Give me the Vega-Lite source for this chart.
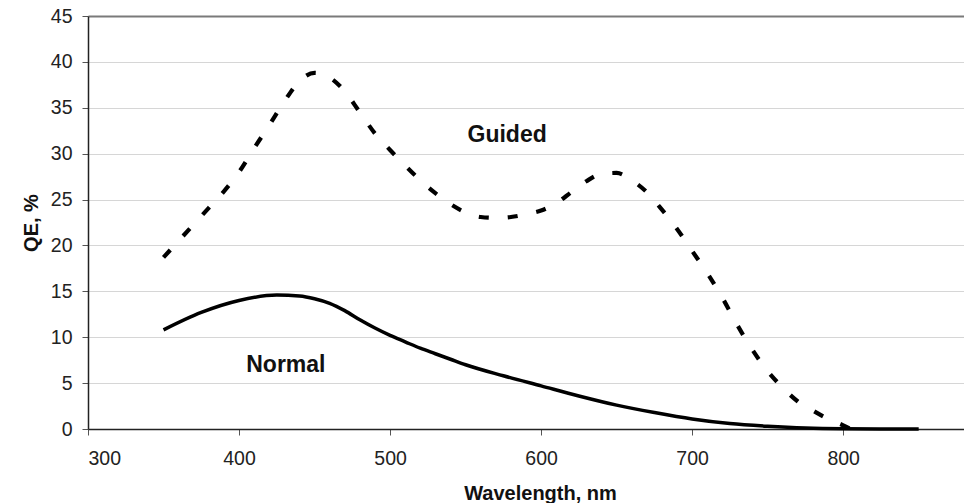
{
  "$schema": "https://vega.github.io/schema/vega-lite/v6.json",
  "width": 876,
  "height": 413,
  "autosize": {"type": "none"},
  "padding": {"left": 88, "top": 16, "right": 0, "bottom": 74},
  "background": "white",
  "config": {
    "font": "Liberation Sans",
    "view": {"stroke": null}
  },
  "datasets": {
    "normal": [
      {"wl": 350, "qe": 10.8}, {"wl": 375, "qe": 12.7}, {"wl": 400, "qe": 14.0}, {"wl": 425, "qe": 14.6},
      {"wl": 440, "qe": 14.5}, {"wl": 450, "qe": 14.2}, {"wl": 460, "qe": 13.7}, {"wl": 470, "qe": 12.9},
      {"wl": 480, "qe": 11.9}, {"wl": 490, "qe": 11.0}, {"wl": 500, "qe": 10.2}, {"wl": 510, "qe": 9.5},
      {"wl": 520, "qe": 8.8}, {"wl": 530, "qe": 8.2}, {"wl": 540, "qe": 7.6}, {"wl": 550, "qe": 7.0},
      {"wl": 575, "qe": 5.8}, {"wl": 600, "qe": 4.7}, {"wl": 625, "qe": 3.6},
      {"wl": 650, "qe": 2.6}, {"wl": 675, "qe": 1.8}, {"wl": 700, "qe": 1.1}, {"wl": 725, "qe": 0.6},
      {"wl": 750, "qe": 0.3}, {"wl": 775, "qe": 0.1}, {"wl": 800, "qe": 0.02}, {"wl": 825, "qe": 0}, {"wl": 850, "qe": 0}
    ],
    "guided": [
      {"wl": 350, "qe": 18.7}, {"wl": 360, "qe": 20.5}, {"wl": 370, "qe": 22.3}, {"wl": 380, "qe": 24.1},
      {"wl": 390, "qe": 25.9}, {"wl": 400, "qe": 28.0}, {"wl": 410, "qe": 30.6}, {"wl": 420, "qe": 33.1},
      {"wl": 430, "qe": 35.7}, {"wl": 440, "qe": 37.9}, {"wl": 450, "qe": 38.8}, {"wl": 460, "qe": 38.3},
      {"wl": 470, "qe": 36.8}, {"wl": 480, "qe": 34.5}, {"wl": 490, "qe": 32.2}, {"wl": 500, "qe": 30.4},
      {"wl": 510, "qe": 28.7}, {"wl": 520, "qe": 27.1}, {"wl": 530, "qe": 25.7}, {"wl": 540, "qe": 24.5},
      {"wl": 550, "qe": 23.6}, {"wl": 560, "qe": 23.1}, {"wl": 570, "qe": 23.0}, {"wl": 580, "qe": 23.1},
      {"wl": 590, "qe": 23.4}, {"wl": 600, "qe": 23.8}, {"wl": 610, "qe": 24.6}, {"wl": 620, "qe": 25.8},
      {"wl": 630, "qe": 27.0}, {"wl": 640, "qe": 27.8}, {"wl": 650, "qe": 27.9}, {"wl": 660, "qe": 27.1},
      {"wl": 670, "qe": 25.8}, {"wl": 680, "qe": 23.9}, {"wl": 690, "qe": 21.8}, {"wl": 700, "qe": 19.4},
      {"wl": 710, "qe": 17.0}, {"wl": 720, "qe": 14.3}, {"wl": 730, "qe": 11.3}, {"wl": 740, "qe": 8.6},
      {"wl": 750, "qe": 6.3}, {"wl": 760, "qe": 4.5}, {"wl": 770, "qe": 3.0}, {"wl": 780, "qe": 2.0},
      {"wl": 790, "qe": 1.1}, {"wl": 800, "qe": 0.4}, {"wl": 805, "qe": 0}
    ],
    "labels": [
      {"wl": 577.5, "qe": 32.0, "label": "Guided"},
      {"wl": 431, "qe": 7.0, "label": "Normal"}
    ]
  },
  "layer": [
    {
      "data": {"name": "guided"},
      "mark": {"type": "line", "color": "black", "strokeWidth": 4.2, "strokeDash": [10, 19], "interpolate": "monotone", "clip": true},
      "encoding": {
        "x": {
          "field": "wl", "type": "quantitative",
          "scale": {"domain": [300, 880], "nice": false, "zero": false},
          "axis": {
            "values": [300, 400, 500, 600, 700, 800],
            "title": "Wavelength, nm",
            "titleFont": "Liberation Sans", "titleFontSize": 20, "titleFontWeight": "bold", "titleColor": "#111",
            "titleX": 452, "titleY": 70, "titleBaseline": "alphabetic", "titleAnchor": "middle",
            "labelFontSize": 19.5, "labelColor": "#222", "labelPadding": 14,
            "tickSize": 6, "tickColor": "#555", "domainColor": "#222", "domainWidth": 1.5,
            "grid": false
          }
        },
        "y": {
          "field": "qe", "type": "quantitative",
          "scale": {"domain": [0, 45], "nice": false},
          "axis": {
            "values": [0, 5, 10, 15, 20, 25, 30, 35, 40, 45],
            "title": "QE, %",
            "titleFont": "Liberation Sans", "titleFontSize": 20, "titleFontWeight": "bold", "titleColor": "#111",
            "titleX": -51, "titleY": 206.5, "titleBaseline": "alphabetic", "titleAngle": -90, "titleAnchor": "middle", "titleAlign": "center",
            "labelFontSize": 19.5, "labelColor": "#222", "labelPadding": 10,
            "tickSize": 6, "tickColor": "#555", "domainColor": "#222", "domainWidth": 1.5,
            "grid": true,
            "gridColor": {"condition": {"test": "datum.value === 45", "value": "#7a7a7a"}, "value": "#d6d6d6"},
            "gridWidth": {"condition": {"test": "datum.value === 45", "value": 2}, "value": 1.2}
          }
        }
      }
    },
    {
      "data": {"name": "normal"},
      "mark": {"type": "line", "color": "black", "strokeWidth": 3.5, "interpolate": "monotone"},
      "encoding": {
        "x": {"field": "wl", "type": "quantitative"},
        "y": {"field": "qe", "type": "quantitative"}
      }
    },
    {
      "data": {"name": "labels"},
      "mark": {"type": "text", "fontSize": 23, "fontWeight": "bold", "color": "#111", "baseline": "middle", "align": "center"},
      "encoding": {
        "x": {"field": "wl", "type": "quantitative"},
        "y": {"field": "qe", "type": "quantitative"},
        "text": {"field": "label"}
      }
    }
  ]
}
